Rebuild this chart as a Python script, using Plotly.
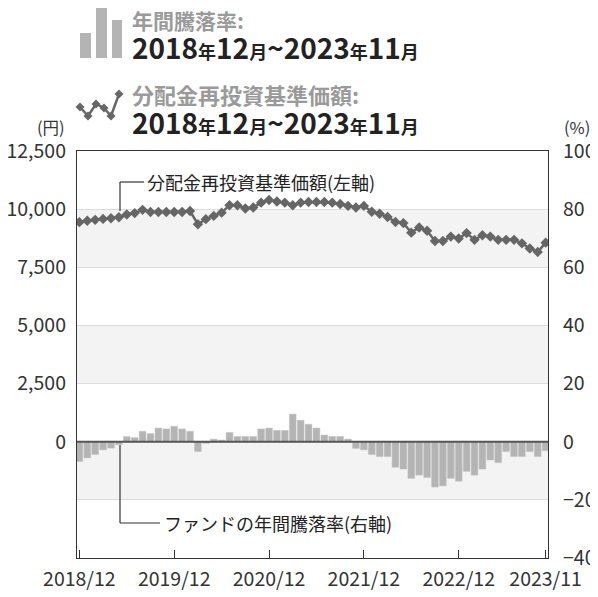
import plotly.graph_objects as go

# ---- data ----
months = []
y, m = 2018, 12
for _ in range(60):
    months.append(f"{y}/{m:02d}")
    m += 1
    if m > 12:
        m = 1
        y += 1

nav = [9440, 9500, 9540, 9580, 9610, 9650, 9770, 9830, 9970, 9880,
       9880, 9880, 9880, 9880, 9920, 9350, 9570, 9710, 9850, 10170,
       10170, 10030, 10070, 10280, 10390, 10330, 10280, 10170, 10280, 10310,
       10310, 10310, 10280, 10220, 10140, 10070, 10140, 9890, 9800, 9660,
       9450, 9400, 8990, 9210, 9070, 8630, 8630, 8820, 8740, 8970,
       8680, 8880, 8820, 8680, 8680, 8680, 8530, 8310, 8160, 8560]

annual_return = [-6.8, -5.6, -4.4, -2.8, -2.2, -1.0, 1.8, 1.4, 3.6, 2.8,
                 4.7, 4.4, 5.3, 4.4, 3.6, -3.4, -0.6, 0.9, 0.6, 3.2,
                 1.8, 1.8, 1.8, 4.4, 4.7, 3.9, 3.9, 9.5, 7.4, 6.0,
                 4.7, 2.3, 1.8, 1.8, 0.9, -2.3, -2.8, -4.4, -5.1, -5.1,
                 -8.8, -9.4, -12.6, -11.5, -12.3, -15.6, -15.2, -12.6, -13.6, -10.2,
                 -11.5, -9.4, -6.3, -7.2, -3.4, -5.1, -5.1, -3.4, -5.1, -3.1]

x_tick_vals = ["2018/12", "2019/12", "2020/12", "2021/12", "2022/12", "2023/11"]
yen_ticks = [0, 2500, 5000, 7500, 10000, 12500]
yen_labels = ["0", "2,500", "5,000", "7,500", "10,000", "12,500"]
pct_ticks = [-40, -20, 0, 20, 40, 60, 80, 100]
pct_labels = ["−40", "−20", "0", "20", "40", "60", "80", "100"]

# ---- layout geometry (page pixels; page body has an 8px margin) ----
OFF = 8
W, H = 598 - OFF, 597 - OFF
L, R, T, B = 77, 548, 151, 558
FONT = "Noto Sans CJK JP"
TICK_SIZE = 19.5

def px(x):
    return (x - L) / (R - L)

def py(yv):
    return (B - yv) / (B - T)

fig = go.Figure()
fig.add_trace(go.Bar(
    x=months, y=annual_return, yaxis="y",
    marker=dict(color="#b4b4b4", line=dict(color="#c4c4c4", width=0.5)),
    showlegend=False,
))
fig.add_trace(go.Scatter(
    x=months, y=nav, yaxis="y2", mode="lines+markers",
    line=dict(color="#666666", width=2.5),
    marker=dict(symbol="diamond", size=8, color="#666666"),
    showlegend=False,
))

shapes = []
for lo, hi in [(60, 80), (20, 40), (-20, 0)]:
    shapes.append(dict(type="rect", xref="paper", yref="y", x0=0, x1=1, y0=lo, y1=hi,
                       fillcolor="#f3f3f3", line=dict(width=0), layer="below"))
shapes.append(dict(type="line", xref="paper", yref="y", x0=0, x1=1, y0=0, y1=0,
                   line=dict(color="#555555", width=2), layer="above"))
# leader lines
shapes.append(dict(type="line", xref="paper", yref="paper", x0=px(120), x1=px(120),
                   y0=py(182), y1=py(211), line=dict(color="#333", width=1.2)))
shapes.append(dict(type="line", xref="paper", yref="paper", x0=px(120), x1=px(144),
                   y0=py(182), y1=py(182), line=dict(color="#333", width=1.2)))
shapes.append(dict(type="line", xref="paper", yref="paper", x0=px(120), x1=px(120),
                   y0=py(445), y1=py(523), line=dict(color="#333", width=1.2)))
shapes.append(dict(type="line", xref="paper", yref="paper", x0=px(120), x1=px(160),
                   y0=py(523), y1=py(523), line=dict(color="#333", width=1.2)))
# legend icon: bars
for x0, x1, y0 in [(80, 91, 33), (96, 107, 5), (112, 122, 20)]:
    shapes.append(dict(type="rect", xref="paper", yref="paper", x0=px(x0), x1=px(x1),
                       y0=py(58), y1=py(y0), fillcolor="#b4b4b4", line=dict(width=0)))
# legend icon: line path
icon_pts = [(80, 107), (88, 116), (96, 104), (104, 108), (111, 116), (119, 94)]
path = "M " + " L ".join(f"{px(a)},{py(b)}" for a, b in icon_pts)
shapes.append(dict(type="path", xref="paper", yref="paper", path=path,
                   line=dict(color="#666666", width=2.5)))
for a, b in icon_pts:
    d = 4.5
    dp = f"M {px(a)},{py(b-d)} L {px(a+d)},{py(b)} L {px(a)},{py(b+d)} L {px(a-d)},{py(b)} Z"
    shapes.append(dict(type="path", xref="paper", yref="paper", path=dp,
                       fillcolor="#666666", line=dict(width=0)))

def date_range_text():
    big = "font-size:28px"
    small = "font-size:18px"
    parts = [("2018", big), ("年", small), ("12", big), ("月", small), ("~", big),
             ("2023", big), ("年", small), ("11", big), ("月", small)]
    return "<b>" + "".join(f"<span style='{s}'>{t}</span>" for t, s in parts) + "</b>"

annotations = [
    dict(text="<b>年間騰落率:</b>", x=px(130), y=py(20), xanchor="left", yanchor="middle",
         font=dict(size=21, color="#9a9a9a", family=FONT)),
    dict(text=date_range_text(), x=px(130), y=py(47), xanchor="left", yanchor="middle",
         font=dict(size=24, color="#222222", family=FONT)),
    dict(text="<b>分配金再投資基準価額:</b>", x=px(130), y=py(94), xanchor="left", yanchor="middle",
         font=dict(size=22, color="#9a9a9a", family=FONT)),
    dict(text=date_range_text(), x=px(130), y=py(122), xanchor="left", yanchor="middle",
         font=dict(size=24, color="#222222", family=FONT)),
    dict(text="(円)", x=px(67), y=py(127), xanchor="right", yanchor="middle",
         font=dict(size=16.5, color="#333333", family=FONT)),
    dict(text="(%)", x=px(562), y=py(127), xanchor="left", yanchor="middle",
         font=dict(size=16.5, color="#333333", family=FONT)),
    dict(text="分配金再投資基準価額(左軸)", x=px(145), y=py(182), xanchor="left", yanchor="middle",
         font=dict(size=18, color="#222222", family=FONT)),
    dict(text="ファンドの年間騰落率(右軸)", x=px(162), y=py(523), xanchor="left", yanchor="middle",
         font=dict(size=18, color="#222222", family=FONT)),
]
for a in annotations:
    a.update(xref="paper", yref="paper", showarrow=False)

fig.update_layout(
    width=W, height=H,
    margin=dict(l=L - OFF, r=W - (R - OFF), t=T - OFF, b=H - (B - OFF), autoexpand=False),
    paper_bgcolor="white", plot_bgcolor="white",
    font=dict(family=FONT, size=TICK_SIZE, color="#333333"),
    bargap=0.14,
    xaxis=dict(type="category", range=[-0.3, 59.3], tickvals=x_tick_vals, ticktext=x_tick_vals,
               ticks="inside", ticklen=8, tickcolor="#333", showgrid=False,
               showline=True, linecolor="#333", linewidth=1.2, mirror=True,
               ticklabelstandoff=3, tickfont=dict(size=TICK_SIZE, color="#333"), automargin=False),
    yaxis=dict(side="right", range=[-40, 100], tickvals=pct_ticks, ticktext=pct_labels,
               showgrid=True, gridcolor="#dcdcdc", gridwidth=1, zeroline=False,
               showline=True, linecolor="#333", linewidth=1.2,
               ticks="outside", ticklen=10, tickcolor="rgba(0,0,0,0)",
               tickfont=dict(size=TICK_SIZE, color="#333"), automargin=False),
    yaxis2=dict(side="left", overlaying="y", range=[-5000, 12500], tickvals=yen_ticks,
                ticktext=yen_labels, showgrid=False, zeroline=False,
                showline=True, linecolor="#333", linewidth=1.2,
                ticks="outside", ticklen=6, tickcolor="rgba(0,0,0,0)",
                tickfont=dict(size=TICK_SIZE, color="#333"), automargin=False),
    shapes=shapes,
    annotations=annotations,
)

fig.write_html("out.html")
